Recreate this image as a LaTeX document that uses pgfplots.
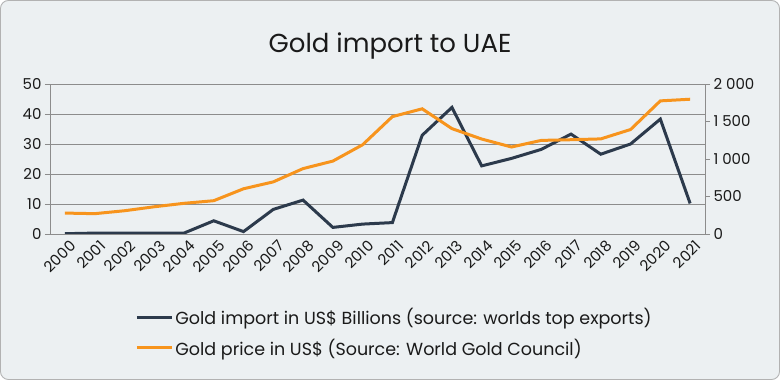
\documentclass[border=0pt]{standalone}
\usepackage{pgfplots}
\pgfplotsset{compat=1.18}
\usepackage{fontspec}
\setmainfont{Poppins}
\definecolor{navy}{HTML}{2C3A4C}
\definecolor{gold}{HTML}{F7941D}
\definecolor{bg}{HTML}{ECF0F2}
\definecolor{gridc}{HTML}{8C8C8C}
\definecolor{txt}{HTML}{1A1A1A}
\pgfplotstableread{
x imp price
0 0.1 279
1 0.3 271
2 0.3 310
3 0.3 363
4 0.3 409
5 4.4 444
6 0.8 603
7 8.2 695
8 11.3 872
9 2.2 972
10 3.3 1190
11 3.8 1565
12 32.9 1669
13 42.2 1405
14 22.7 1266
15 25.2 1160
16 28.2 1248
17 33.3 1257
18 26.6 1268
19 30.0 1393
20 38.3 1775
21 10.2 1797
}\data
\begin{document}
\begin{tikzpicture}
\fill[bg,rounded corners=8pt] (0pt,0pt) rectangle (780pt,380pt);
\draw[gray!60,rounded corners=8pt,line width=0.8pt] (0.5pt,0.5pt) rectangle (779.5pt,379.5pt);
\node[font=\fontsize{26}{30}\selectfont,text=txt] at (390pt,334pt) {Gold import to UAE};
\begin{axis}[
  at={(50pt,146pt)}, anchor=south west,
  scale only axis, width=655pt, height=150pt,
  xmin=-0.5, xmax=21.5, ymin=0, ymax=50,
  ytick={0,10,...,50},
  axis y line*=left, axis x line*=bottom,
  axis line style={gridc, line width=0.9pt},
  ymajorgrids, grid style={gridc, line width=0.9pt},
  xtick={0,...,21},
  xticklabels={2000,2001,2002,2003,2004,2005,2006,2007,2008,2009,2010,2011,2012,2013,2014,2015,2016,2017,2018,2019,2020,2021},
  major x tick style={draw=none},
  extra x ticks={-0.5,0.5,...,21.5}, extra x tick labels={},
  extra x tick style={major tick length=5pt, tick style={gridc, line width=0.9pt}, tick align=outside, grid=none},
  tick align=outside, major tick length=5pt,
  tick style={gridc, line width=0.9pt},
  xticklabel style={rotate=45, anchor=north east, inner sep=1pt, xshift=4pt, yshift=-2pt, font=\fontsize{15}{17}\selectfont, text=txt},
  yticklabel style={font=\fontsize{15}{17}\selectfont, text=txt},
  /pgf/number format/assume math mode=true,
]
\addplot[navy, line width=3pt, no markers] table[x=x,y=imp] {\data};
\end{axis}
\begin{axis}[
  at={(50pt,146pt)}, anchor=south west,
  scale only axis, width=655pt, height=150pt,
  xmin=-0.5, xmax=21.5, ymin=0, ymax=2000,
  ytick={0,500,...,2000},
  axis y line*=right, axis x line=none,
  axis line style={gridc, line width=0.9pt},
  tick align=outside, major tick length=5pt,
  tick style={gridc, line width=0.9pt},
  yticklabel style={font=\fontsize{15}{17}\selectfont, text=txt},
  /pgf/number format/assume math mode=true,
  /pgf/number format/1000 sep={\ },
  legend style={at={(0.13,-0.48)}, anchor=north west, draw=none, fill=none,
    font=\fontsize{17.5}{20}\selectfont, text=txt, row sep=9pt, inner sep=0pt},
  legend cell align=left,
  legend image code/.code={\draw[#1, line width=3pt] (0pt,0pt) -- (35pt,0pt);},
]
\addlegendimage{navy, line width=3pt}
\addlegendentry{Gold import in US\$ Billions (source: worlds top exports)}
\addplot[gold, line width=3pt, no markers] table[x=x,y=price] {\data};
\addlegendentry{Gold price in US\$ (Source: World Gold Council)}
\end{axis}
\end{tikzpicture}
\end{document}
